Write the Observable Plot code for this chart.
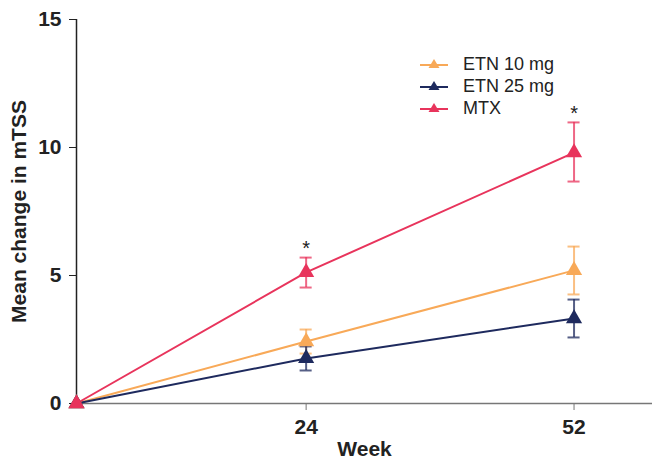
<!DOCTYPE html>
<html>
<head>
<meta charset="utf-8">
<script src="https://cdn.jsdelivr.net/npm/d3@7"></script>
<script src="https://cdn.jsdelivr.net/npm/@observablehq/plot@0.6"></script>
<style>
  html, body { margin: 0; padding: 0; background: #fff; }
  #wrap { position: relative; width: 652px; height: 458px; font-family: "Liberation Sans", Arial, sans-serif; }
  #legend { position: absolute; left: 420px; top: 53px; font-size: 18px; color: #222; }
  .row { display: flex; align-items: center; height: 22px; }
  .row svg { margin-right: 15px; }
</style>
</head>
<body>
<div id="wrap"><div id="legend"></div></div>
<script>
const weeks = [0, 24, 52];
const seriesNames = ["ETN 10 mg", "ETN 25 mg", "MTX"];
const colors = ["#F8A958", "#1E2A5E", "#E8345C"];
const meanETN10 = [0, 2.42, 5.2];
const lowETN10 = [0, 1.95, 4.26];
const highETN10 = [0, 2.89, 6.13];
const meanETN25 = [0, 1.76, 3.32];
const lowETN25 = [0, 1.29, 2.58];
const highETN25 = [0, 2.23, 4.06];
const meanMTX = [0, 5.12, 9.8];
const lowMTX = [0, 4.53, 8.67];
const highMTX = [0, 5.7, 10.98];
const starWeeks = [24, 52];
const yTicks = [0, 5, 10, 15];
const xTicks = [24, 52];

const means = [meanETN10, meanETN25, meanMTX];
const lows = [lowETN10, lowETN25, lowMTX];
const highs = [highETN10, highETN25, highMTX];

const data = [];
seriesNames.forEach((s, i) => weeks.forEach((w, j) => data.push({series: s, week: w, mean: means[i][j], low: lows[i][j], high: highs[i][j]})));
const errData = data.filter(d => d.week > 0);
const starData = starWeeks.map(w => data.find(d => d.series === "MTX" && d.week === w));
const capHalf = 0.63;

const plot = Plot.plot({
  width: 652,
  height: 458,
  marginLeft: 76,
  marginTop: 19,
  marginBottom: 55,
  marginRight: 0,
  style: {fontFamily: "Liberation Sans, Arial, sans-serif", background: "#fff"},
  x: {domain: [0, 60.2]},
  y: {domain: [0, 15]},
  color: {domain: seriesNames, range: colors},
  marks: [
    Plot.axisY({ticks: yTicks, tickSize: 7, tickPadding: 8, fontSize: 21, fontWeight: "bold", label: "Mean change in mTSS", labelAnchor: "center", labelOffset: 65, labelArrow: "none", stroke: "#222", color: "#222"}),
    Plot.axisX({ticks: xTicks, tickSize: 7, tickPadding: 9, fontSize: 21, fontWeight: "bold", label: "Week", labelAnchor: "center", labelOffset: 52, labelArrow: "none", stroke: "#777", color: "#222"}),
    Plot.ruleY([0], {stroke: "#777", strokeWidth: 1.5}),
    Plot.ruleX([0], {stroke: "#222", strokeWidth: 1.5}),
    Plot.ruleX(errData, {x: "week", y1: "low", y2: "high", stroke: "series", strokeWidth: 2, strokeOpacity: 0.75}),
    Plot.ruleY(errData, {y: "low", x1: d => d.week - capHalf, x2: d => d.week + capHalf, stroke: "series", strokeWidth: 2, strokeOpacity: 0.75}),
    Plot.ruleY(errData, {y: "high", x1: d => d.week - capHalf, x2: d => d.week + capHalf, stroke: "series", strokeWidth: 2, strokeOpacity: 0.75}),
    Plot.line(data, {x: "week", y: "mean", z: "series", stroke: "series", strokeWidth: 2}),
    Plot.dot(data, {x: "week", y: "mean", fill: "series", symbol: "triangle", r: 6}),
    Plot.text(starData, {x: "week", y: "high", text: () => "*", dy: -9, fontSize: 20, fill: "#222"})
  ]
});
document.getElementById("wrap").prepend(plot);

const legend = document.getElementById("legend");
seriesNames.forEach((s, i) => {
  const row = document.createElement("div");
  row.className = "row";
  row.innerHTML = `<svg width="28" height="14"><line x1="0" y1="8" x2="28" y2="8" stroke="${colors[i]}" stroke-width="2"/><path d="M14,2 L19.5,11 L8.5,11 Z" fill="${colors[i]}"/></svg><span>${s}</span>`;
  legend.appendChild(row);
});
</script>
</body>
</html>
